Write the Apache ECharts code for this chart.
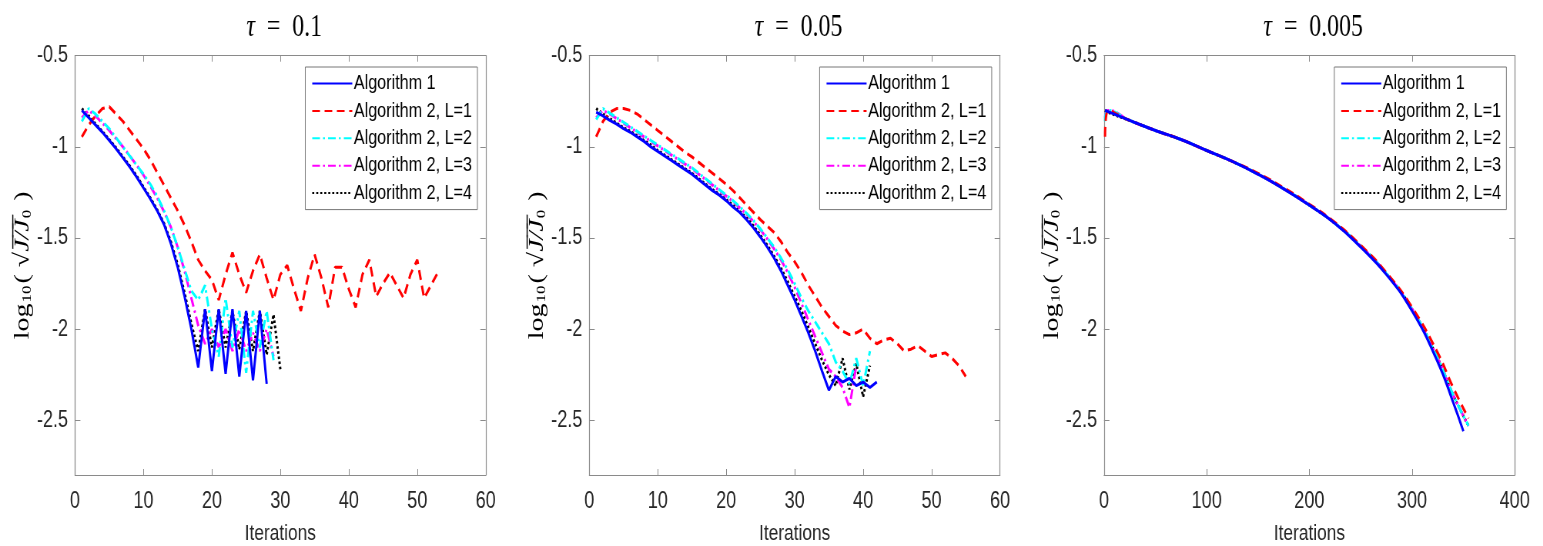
<!DOCTYPE html>
<html>
<head>
<meta charset="utf-8">
<script src="https://cdn.jsdelivr.net/npm/echarts@6/dist/echarts.min.js"></script>
<style>
html, body { margin: 0; padding: 0; background: #fff; overflow: hidden; width: 1543px; height: 546px; }
/* the figure is horizontally compressed, as in the source image */
#chart { width: 2004px; height: 546px; transform: scaleX(0.77); transform-origin: 0 0; }
</style>
</head>
<body>
<div id="chart"></div>
<script>
// legend names
const names = ['Algorithm 1', 'Algorithm 2, L=1', 'Algorithm 2, L=2', 'Algorithm 2, L=3', 'Algorithm 2, L=4']
const yTicks = [-2.5, -2, -1.5, -1, -0.5]

// tau = 0.1 (iteration = index + 1)
const t1_alg1 = [-0.80, -0.84, -0.88, -0.92, -0.965, -1.01, -1.06, -1.11, -1.165, -1.225, -1.285, -1.35, -1.425, -1.53, -1.66, -1.82, -2.00, -2.21, -1.89, -2.23, -1.89, -2.245, -1.89, -2.26, -1.90, -2.28, -1.90, -2.30]
const t1_L1 = [-0.945, -0.88, -0.83, -0.79, -0.78, -0.82, -0.86, -0.91, -0.96, -1.01, -1.07, -1.14, -1.21, -1.28, -1.35, -1.43, -1.52, -1.62, -1.68, -1.73, -1.84, -1.70, -1.58, -1.70, -1.80, -1.68, -1.59, -1.72, -1.84, -1.70, -1.65, -1.78, -1.90, -1.72, -1.59, -1.72, -1.88, -1.66, -1.66, -1.78, -1.88, -1.70, -1.62, -1.82, -1.75, -1.69, -1.76, -1.83, -1.70, -1.62, -1.83, -1.76, -1.69]
const t1_L2 = [-0.86, -0.79, -0.82, -0.86, -0.90, -0.95, -1.00, -1.05, -1.10, -1.15, -1.205, -1.27, -1.35, -1.44, -1.55, -1.67, -1.79, -1.84, -1.76, -2.00, -2.15, -1.83, -2.10, -1.90, -2.24, -1.90, -2.10, -1.90, -2.17]
const t1_L3 = [-0.84, -0.80, -0.83, -0.87, -0.91, -0.955, -1.00, -1.05, -1.10, -1.155, -1.215, -1.28, -1.355, -1.44, -1.55, -1.68, -1.83, -1.98, -2.08, -2.00, -2.10, -2.00, -2.12, -2.00, -2.12, -2.02, -2.12, -2.00, -2.15]
const t1_L4 = [-0.79, -0.83, -0.875, -0.915, -0.96, -1.005, -1.055, -1.105, -1.16, -1.22, -1.28, -1.345, -1.42, -1.52, -1.645, -1.80, -1.97, -2.12, -1.89, -2.10, -1.89, -2.10, -1.90, -2.11, -1.90, -2.12, -1.90, -2.14, -1.92, -2.22]

// tau = 0.05
const t2_alg1 = [-0.81, -0.83, -0.855, -0.875, -0.90, -0.92, -0.945, -0.97, -1.00, -1.025, -1.05, -1.075, -1.10, -1.125, -1.15, -1.18, -1.21, -1.24, -1.265, -1.295, -1.33, -1.36, -1.40, -1.445, -1.495, -1.55, -1.61, -1.68, -1.76, -1.84, -1.93, -2.02, -2.12, -2.23, -2.335, -2.26, -2.29, -2.27, -2.31, -2.29, -2.32, -2.29]
const t2_L1 = [-0.945, -0.86, -0.81, -0.79, -0.79, -0.80, -0.82, -0.85, -0.88, -0.91, -0.94, -0.97, -1.00, -1.03, -1.055, -1.085, -1.115, -1.145, -1.175, -1.205, -1.24, -1.28, -1.32, -1.36, -1.40, -1.435, -1.47, -1.52, -1.58, -1.63, -1.69, -1.76, -1.82, -1.88, -1.93, -1.98, -2.01, -2.03, -2.02, -2.00, -2.05, -2.08, -2.06, -2.05, -2.08, -2.12, -2.11, -2.09, -2.12, -2.15, -2.14, -2.13, -2.16, -2.20, -2.26]
const t2_L2 = [-0.85, -0.79, -0.815, -0.84, -0.865, -0.89, -0.915, -0.94, -0.965, -0.99, -1.015, -1.04, -1.065, -1.09, -1.115, -1.145, -1.175, -1.205, -1.235, -1.265, -1.295, -1.33, -1.365, -1.405, -1.45, -1.50, -1.55, -1.61, -1.675, -1.75, -1.83, -1.90, -1.96, -2.02, -2.08, -2.18, -2.23, -2.30, -2.16, -2.31, -2.12]
const t2_L3 = [-0.84, -0.80, -0.82, -0.845, -0.87, -0.895, -0.92, -0.945, -0.97, -0.995, -1.02, -1.045, -1.07, -1.095, -1.12, -1.15, -1.18, -1.21, -1.24, -1.27, -1.30, -1.335, -1.37, -1.41, -1.455, -1.505, -1.56, -1.62, -1.69, -1.77, -1.86, -1.95, -2.04, -2.13, -2.22, -2.26, -2.32, -2.43, -2.20]
const t2_L4 = [-0.79, -0.82, -0.845, -0.87, -0.895, -0.915, -0.94, -0.965, -0.99, -1.02, -1.045, -1.07, -1.095, -1.12, -1.145, -1.175, -1.205, -1.235, -1.26, -1.29, -1.32, -1.355, -1.39, -1.435, -1.485, -1.54, -1.60, -1.665, -1.74, -1.82, -1.90, -1.99, -2.08, -2.17, -2.25, -2.31, -2.16, -2.33, -2.19, -2.37, -2.20]

// tau = 0.005 (sampled iterations)
const t3_it_alg1 = [1, 25, 50, 75, 100, 125, 150, 175, 200, 225, 250, 275, 300, 325, 340, 350]
const t3_alg1 = [-0.80, -0.855, -0.91, -0.96, -1.02, -1.08, -1.15, -1.23, -1.32, -1.42, -1.55, -1.70, -1.90, -2.18, -2.40, -2.56]
const t3_it = [1, 4, 25, 50, 75, 100, 125, 150, 175, 200, 225, 250, 275, 300, 325, 340, 355]
const t3_L1 = [-0.945, -0.80, -0.855, -0.91, -0.96, -1.02, -1.08, -1.145, -1.225, -1.315, -1.415, -1.54, -1.69, -1.88, -2.13, -2.32, -2.49]
const t3_L2 = [-0.86, -0.80, -0.855, -0.91, -0.96, -1.02, -1.08, -1.15, -1.23, -1.32, -1.42, -1.545, -1.695, -1.89, -2.16, -2.36, -2.53]
const t3_L3 = [-0.84, -0.80, -0.855, -0.91, -0.96, -1.02, -1.08, -1.15, -1.23, -1.32, -1.42, -1.545, -1.695, -1.89, -2.16, -2.36, -2.53]
const t3_L4 = [-0.80, -0.81, -0.855, -0.91, -0.96, -1.02, -1.08, -1.15, -1.23, -1.32, -1.42, -1.545, -1.695, -1.89, -2.16, -2.36, -2.53]

const SX = 0.77 // horizontal squeeze of the whole figure (see css)
const sans = "'Liberation Sans', Arial, sans-serif"
const serif = "'Liberation Serif', 'DejaVu Serif', serif"
const axisColor = '#8a8a8a'
const textColor = '#262626'

const styles = [
  { color: '#0000ff', type: 'solid' },
  { color: '#ff0000', type: [10, 6] },
  { color: '#00ffff', type: [10, 4, 2.5, 4] },
  { color: '#ff00ff', type: [10, 4, 2.5, 4] },
  { color: '#000000', type: [2.6, 2.6] }
]

const pts = (ys, xs) => ys.map((v, i) => [xs ? xs[i] : i + 1, v])

const panels = [
  { tau: '0.1', left: 75, xMax: 60, xInt: 10,
    data: [pts(t1_alg1), pts(t1_L1), pts(t1_L2), pts(t1_L3), pts(t1_L4)] },
  { tau: '0.05', left: 589.3, xMax: 60, xInt: 10,
    data: [pts(t2_alg1), pts(t2_L1), pts(t2_L2), pts(t2_L3), pts(t2_L4)] },
  { tau: '0.005', left: 1104, xMax: 400, xInt: 100,
    data: [pts(t3_alg1, t3_it_alg1), pts(t3_L1, t3_it), pts(t3_L2, t3_it), pts(t3_L3, t3_it), pts(t3_L4, t3_it)] }
]
const gridTop = 55.7
const gridW = 410.7
const gridH = 419.3

const myEchart = echarts.init(document.getElementById('chart'))

const option = {
  backgroundColor: '#fff',
  animation: false,
  title: [],
  legend: [],
  grid: [],
  xAxis: [],
  yAxis: [],
  series: []
}

panels.forEach((p, i) => {
  option.grid.push({
    left: p.left / SX, top: gridTop, width: gridW / SX, height: gridH,
    containLabel: false, outerBoundsMode: 'none'
  })
  option.title.push({
    text: '{i|τ}{r|  =  ' + p.tau + '}',
    left: (p.left + gridW / 2) / SX,
    textAlign: 'center',
    top: 7,
    textStyle: {
      rich: {
        i: { fontFamily: serif, fontStyle: 'italic', fontWeight: 'normal', fontSize: 31, color: '#000' },
        r: { fontFamily: serif, fontWeight: 'normal', fontSize: 31, color: '#000' }
      }
    }
  })
  option.legend.push({
    data: names,
    orient: 'vertical',
    right: (2004 * SX - (p.left + gridW - 8.3)) / SX,
    top: 67,
    padding: [5.5, 7, 5.5, 8],
    itemWidth: 52,
    itemHeight: 14,
    itemGap: 5.4,
    backgroundColor: '#fff',
    borderColor: '#777',
    borderWidth: 1,
    borderRadius: 0,
    selectedMode: false,
    itemStyle: { color: 'rgba(0,0,0,0)', borderWidth: 0, opacity: 0 },
    textStyle: { fontFamily: sans, fontSize: 21, color: '#000', lineHeight: 22, padding: [0, 0, 0, -3] }
  })
  const tickStyle = { inside: true, length: 6, lineStyle: { color: axisColor } }
  const lineStyle = { onZero: false, lineStyle: { color: axisColor, width: 1.2 } }
  option.xAxis.push({
    gridIndex: i, type: 'value', position: 'bottom',
    min: 0, max: p.xMax, interval: p.xInt,
    axisLine: lineStyle, axisTick: tickStyle, splitLine: { show: false },
    axisLabel: { margin: 15, fontFamily: sans, fontSize: 23.5, color: textColor },
    name: 'Iterations', nameLocation: 'middle', nameGap: 47,
    nameTextStyle: { fontFamily: sans, fontSize: 22.5, color: textColor }
  })
  option.xAxis.push({
    gridIndex: i, type: 'value', position: 'top',
    min: 0, max: p.xMax, interval: p.xInt,
    axisLine: lineStyle, axisTick: tickStyle, splitLine: { show: false },
    axisLabel: { show: false }
  })
  option.yAxis.push({
    gridIndex: i, type: 'value', position: 'left',
    min: -2.8, max: -0.5,
    axisLine: lineStyle,
    axisTick: { ...tickStyle, length: 7, customValues: yTicks },
    splitLine: { show: false },
    axisLabel: { margin: 9, fontFamily: sans, fontSize: 23.5, color: textColor, customValues: yTicks },
    name: '{a|log}{b|10}{a|( √}{c|J̅/̅J̅}{b|0}{a| )}',
    nameLocation: 'middle', nameGap: 48, nameRotate: 90,
    nameTextStyle: {
      rich: {
        a: { fontFamily: serif, fontSize: 28, color: '#000' },
        b: { fontFamily: serif, fontSize: 17, color: '#000', verticalAlign: 'bottom', padding: [10, 2, 0, 1] },
        c: { fontFamily: serif, fontStyle: 'italic', fontSize: 28, color: '#000' }
      }
    }
  })
  option.yAxis.push({
    gridIndex: i, type: 'value', position: 'right',
    min: -2.8, max: -0.5,
    axisLine: lineStyle,
    axisTick: { ...tickStyle, length: 7, customValues: yTicks },
    splitLine: { show: false },
    axisLabel: { show: false }
  })
  p.data.forEach((d, k) => {
    option.series.push({
      name: names[k],
      type: 'line',
      xAxisIndex: i * 2,
      yAxisIndex: i * 2,
      data: d,
      symbol: 'none',
      showSymbol: false,
      smooth: i === 2,
      color: styles[k].color,
      lineStyle: { color: styles[k].color, type: styles[k].type, width: 3 },
      z: 10 - k
    })
  })
})

myEchart.setOption(option)
</script>
</body>
</html>
